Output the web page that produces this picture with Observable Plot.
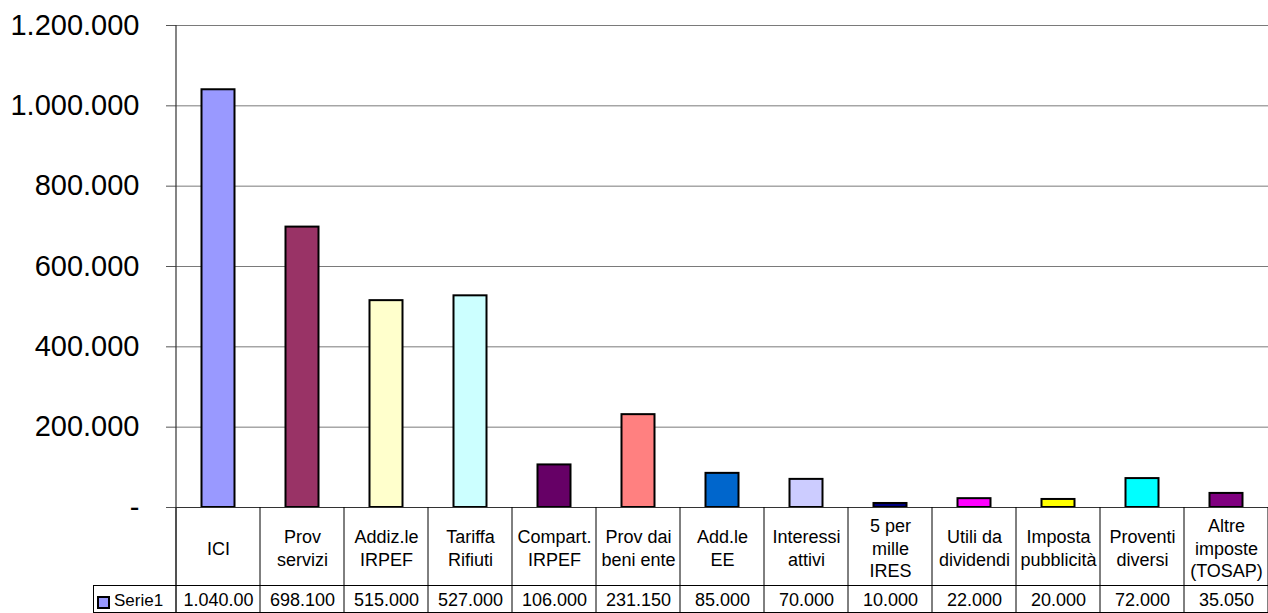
<!DOCTYPE html>
<html>
<head>
<meta charset="utf-8">
<script src="https://cdn.jsdelivr.net/npm/d3@7"></script>
<script src="https://cdn.jsdelivr.net/npm/@observablehq/plot@0.6"></script>
<style>
  html, body { margin: 0; padding: 0; background: #fff; }
  #chart { width: 1268px; height: 613px; }
</style>
</head>
<body>
<div id="chart"></div>
<script>
// ---- data ----
const categories = [
  "ICI", "Prov\nservizi", "Addiz.le\nIRPEF", "Tariffa\nRifiuti", "Compart.\nIRPEF",
  "Prov dai\nbeni ente", "Add.le\nEE", "Interessi\nattivi", "5 per\nmille\nIRES",
  "Utili da\ndividendi", "Imposta\npubblicità", "Proventi\ndiversi", "Altre\nimposte\n(TOSAP)"
];
const values = [1040000, 698100, 515000, 527000, 106000, 231150, 85000, 70000, 10000, 22000, 20000, 72000, 35050];
const colors = ["#9999FF", "#993366", "#FFFFCC", "#CCFFFF", "#660066", "#FF8080", "#0066CC",
  "#CCCCFF", "#000080", "#FF00FF", "#FFFF00", "#00FFFF", "#800080"];
const yTicks = [0, 200000, 400000, 600000, 800000, 1000000, 1200000];
const seriesName = "Serie1";

const rows = categories.map((c, i) => ({cat: c, value: values[i], color: colors[i]}));

const it = d3.formatLocale({decimal: ",", thousands: ".", grouping: [3], currency: ["€", ""]});
const fmt = it.format(",.0f");
const tickFmt = v => v === 0 ? "-" : fmt(v);
// Excel cell shows at most 8 characters in these narrow cells
const cellFmt = v => { const s = fmt(v); return s.length > 8 ? s.slice(0, 8) : s; };

const FONT = "'Liberation Sans', Arial, Helvetica, sans-serif";

function tableMark(index, scales, vals, dims) {
  const x = scales.x;
  const bw = x.bandwidth();
  const W = dims.width, H = dims.height;
  const y0 = H - dims.marginBottom;
  const rowY = y0 + 78;
  const left = dims.marginLeft;
  const g = d3.create("svg:g").attr("fill", "none");
  // column separators
  const xs = categories.map(c => x(c)).concat([x(categories[categories.length - 1]) + bw]);
  for (const xv of xs) {
    g.append("line").attr("x1", xv).attr("x2", xv).attr("y1", y0).attr("y2", H)
      .attr("stroke", "#000").attr("stroke-width", 1);
  }
  // y-axis line
  g.append("line").attr("x1", left).attr("x2", left).attr("y1", dims.marginTop).attr("y2", H)
    .attr("stroke", "#333").attr("stroke-width", 1.2);
  // row separator and bottom
  const serieLeft = 93.5;
  g.append("line").attr("x1", serieLeft).attr("x2", W).attr("y1", rowY + 0.5).attr("y2", rowY + 0.5)
    .attr("stroke", "#000");
  g.append("line").attr("x1", serieLeft).attr("x2", W).attr("y1", H - 0.5).attr("y2", H - 0.5)
    .attr("stroke", "#000");
  g.append("line").attr("x1", serieLeft).attr("x2", serieLeft).attr("y1", rowY).attr("y2", H)
    .attr("stroke", "#000");
  // legend key
  g.append("rect").attr("x", 98).attr("y", 597).attr("width", 11).attr("height", 11)
    .attr("fill", colors[0]).attr("stroke", "#000").attr("stroke-width", 2);
  g.append("text").attr("x", 114).attr("y", 600).attr("dy", "0.35em")
    .attr("text-anchor", "start")
    .attr("fill", "#000").attr("stroke", "none").attr("font-size", 17).attr("font-family", FONT).text(seriesName);
  return g.node();
}

const chart = Plot.plot({
  width: 1268,
  height: 613,
  marginLeft: 176,
  marginRight: 0,
  marginTop: 25,
  marginBottom: 106,
  style: {fontFamily: FONT, background: "#fff", color: "#000", overflow: "visible"},
  x: {domain: categories, padding: 0, axis: null},
  y: {domain: [0, 1200000], axis: null},
  marks: [
    Plot.gridY(yTicks, {stroke: "#7a7a7a", strokeOpacity: 1, strokeWidth: 1}),
    Plot.axisY(yTicks, {tickSize: 10, tickPadding: 27, fontSize: 29, tickFormat: tickFmt,
      stroke: "#555", label: null}),
    Plot.barY(rows, {x: "cat", y: "value", fill: "color", stroke: "#000", strokeWidth: 2,
      insetLeft: 25.5, insetRight: 25.5}),
    Plot.ruleY([0], {stroke: "#333", strokeWidth: 1.2}),
    Plot.text(rows, {x: "cat", text: "cat", frameAnchor: "bottom", dy: 40, fontSize: 18,
      lineHeight: 1.25, lineAnchor: "middle", fill: "#000"}),
    Plot.text(rows, {x: "cat", text: d => cellFmt(d.value), frameAnchor: "bottom", dy: 93,
      fontSize: 18, lineAnchor: "middle", fill: "#000"}),
    tableMark
  ]
});
document.getElementById("chart").appendChild(chart);
</script>
</body>
</html>
